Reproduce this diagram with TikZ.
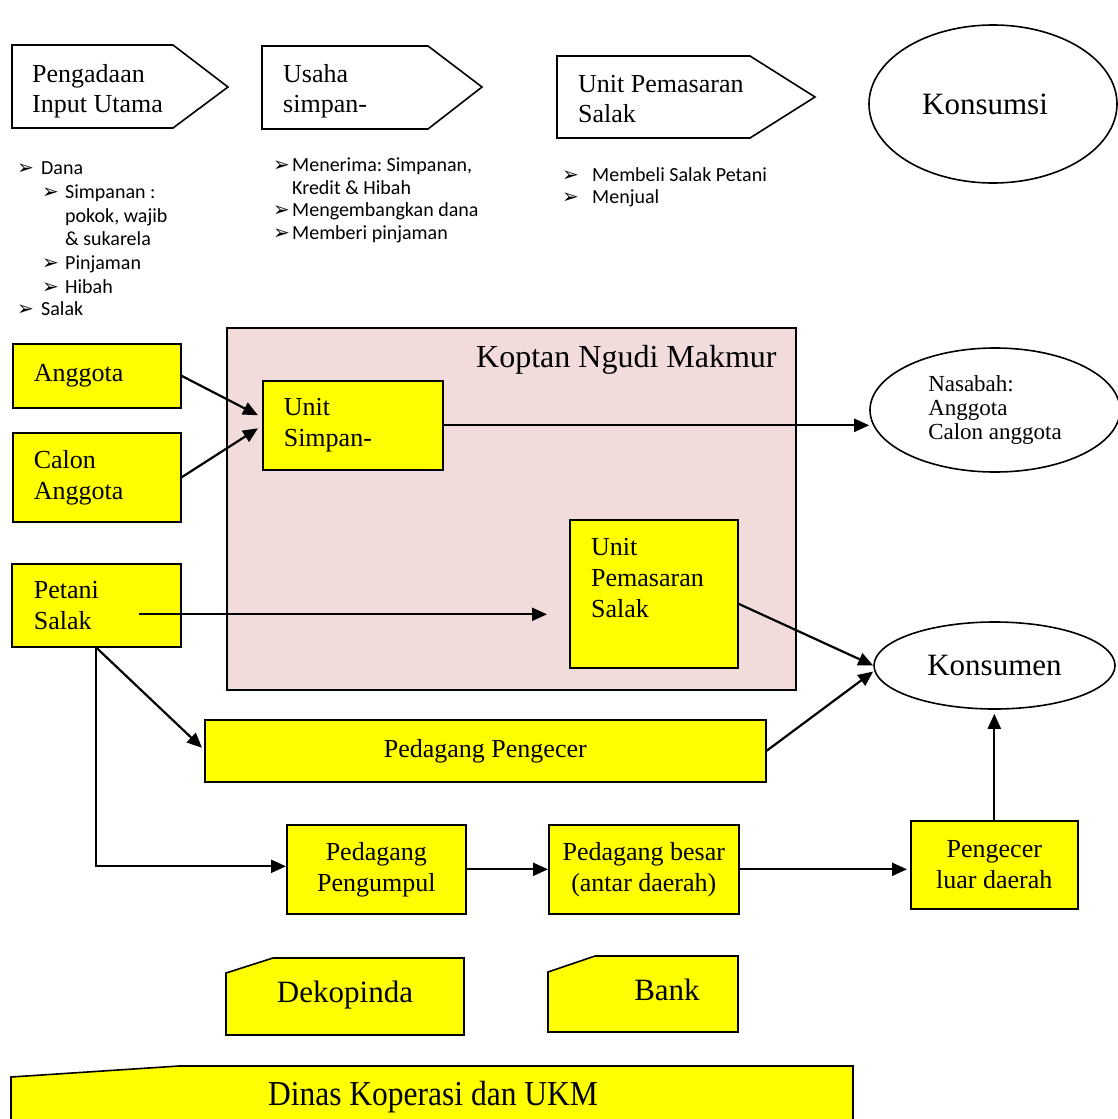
\documentclass[tikz,border=0pt]{standalone}
\usepackage{fontspec}
\setmainfont{Liberation Serif}
\newfontfamily\listfont{Carlito}
\newfontfamily\dingfont{DejaVu Sans}
\usetikzlibrary{arrows.meta,shapes.geometric}
\definecolor{boxyellow}{HTML}{FFFF00}
\definecolor{koptanpink}{HTML}{F2DCDB}
\newcommand\setfs[2]{\fontsize{#1pt}{#2pt}\selectfont}
% natural word spacing inside ragged text blocks
\newcommand\fixsp{\spaceskip=0.25em\relax\xspaceskip=0.25em\relax}
\newcommand\bl[1]{\makebox[#1][l]{\dingfont\setfs{20}{20}➢}}
\frenchspacing
\begin{document}
\begin{tikzpicture}[x=1pt,y=-1pt,
  ybox/.style={draw, fill=boxyellow, line width=1.6pt, rectangle, inner xsep=21pt, inner ysep=0pt,
               font=\setfs{26}{31}},
  lefttext/.style={align=left},
  midtext/.style={align=center, inner xsep=6pt},
  pent/.style={draw, line width=1.6pt, fill=white},
  headtext/.style={anchor=base west, inner sep=0pt, align=left, font=\setfs{26}{30}},
  cutbox/.style={draw, line width=1.6pt, fill=boxyellow},
  ell/.style={draw, ellipse, line width=1.6pt, fill=white, inner sep=0pt},
  listline/.style={anchor=base west, inner sep=0pt, font=\listfont\setfs{20}{23}},
  arr/.style={-{Triangle[length=15pt,width=13pt]}, line width=2.2pt},
]
\useasboundingbox (0,0) rectangle (1118,1119);

% ---- top row: activity headers ----
\draw[pent] (12,45) -- (173,45) -- (228,87) -- (173,128) -- (12,128) -- cycle;
\node[headtext, text width=150pt] (h1) at (32,82) {\fixsp Pengadaan\\Input Utama};
\draw[pent] (262,46) -- (428,46) -- (482,87) -- (428,129) -- (262,129) -- cycle;
\node[headtext, text width=150pt] (h2) at (283,82) {\fixsp Usaha\\simpan-};
\draw[pent] (557,56) -- (750,56) -- (815,97) -- (750,138) -- (557,138) -- cycle;
\node[headtext, text width=190pt] (h3) at (578,92) {\fixsp Unit Pemasaran\\Salak};

\node[ell, minimum width=248pt, minimum height=158pt] (kms) at (993,104) {};
\node[anchor=base, inner sep=0pt, font=\setfs{31}{36}] (kmst) at (985,114) {Konsumsi};

% ---- bullet lists ----
\node[listline] (a1) at (17,174) {\bl{24pt}Dana};
\node[listline] (a2) at (42,198) {\bl{23pt}Simpanan :};
\node[listline] (a3) at (65,222) {pokok, wajib};
\node[listline] (a4) at (65,245) {\& sukarela};
\node[listline] (a5) at (42,269) {\bl{23pt}Pinjaman};
\node[listline] (a6) at (42,293) {\bl{23pt}Hibah};
\node[listline] (a7) at (17,315) {\bl{24pt}Salak};

\node[listline] (b1) at (273,171) {\bl{19pt}Menerima: Simpanan,};
\node[listline] (b2) at (292,194) {Kredit \& Hibah};
\node[listline] (b3) at (273,216) {\bl{19pt}Mengembangkan dana};
\node[listline] (b4) at (273,239) {\bl{19pt}Memberi pinjaman};

\node[listline] (c1) at (562,181) {\bl{30pt}Membeli Salak Petani};
\node[listline] (c2) at (562,203) {\bl{30pt}Menjual};

% ---- Koptan frame ----
\node[draw, fill=koptanpink, line width=1.6pt, minimum width=569pt, minimum height=362pt,
      anchor=north west, inner sep=0pt] (kop) at (226,327) {};
\node[anchor=base west, inner sep=0pt, font=\setfs{32}{36}] (kopt) at (476,367) {Koptan Ngudi Makmur};

% ---- boxes ----
\node[ybox, lefttext, anchor=north west, minimum width=168pt, minimum height=64pt, text width=126pt] (ang) at (12,343) {Anggota};
\node[ybox, lefttext, anchor=north west, minimum width=168pt, minimum height=89pt, text width=126pt] (cal) at (12,432) {Calon\\Anggota};
\node[ybox, lefttext, anchor=north west, minimum width=180pt, minimum height=89pt, text width=138pt] (us) at (262,380) {Unit\\Simpan-};
\node[ybox, lefttext, anchor=north west, inner xsep=22pt, minimum width=169pt, minimum height=83pt, text width=125pt] (pet) at (11,563) {Petani\\Salak};
\node[ybox, anchor=north west, minimum width=168pt, minimum height=148pt] (ups) at (569,519) {};
\node[anchor=base west, inner sep=0pt, text width=140pt, align=left, font=\setfs{26}{31}] (upst) at (591,555) {Unit\\Pemasaran\\Salak};

\node[ybox, midtext, anchor=north west, minimum width=561pt, minimum height=62pt] (ppc) at (204,719) {Pedagang Pengecer};
\node[ybox, midtext, anchor=north west, minimum width=179pt, minimum height=89pt] (pgm) at (286,824) {Pedagang\\Pengumpul};
\node[ybox, midtext, anchor=north west, minimum width=190pt, minimum height=89pt] (pb) at (548,824) {Pedagang besar\\(antar daerah)};
\node[ybox, midtext, anchor=north west, minimum width=167pt, minimum height=88pt] (plr) at (910,820) {Pengecer\\luar daerah};

\node[ell, minimum width=250pt, minimum height=124pt, align=left, font=\setfs{23}{24}] (nas) at (995,410) {Nasabah:\\Anggota\\Calon anggota};
\node[ell, minimum width=241pt, minimum height=87pt, font=\setfs{31}{36}] (kmn) at (994.5,665.5) {Konsumen};

% ---- supporting institutions ----
\draw[cutbox] (226,973) -- (273,958) -- (464,958) -- (464,1035) -- (226,1035) -- cycle;
\node[anchor=base, inner sep=0pt, font=\setfs{31}{36}] (dek) at (345,1002) {Dekopinda};
\draw[cutbox] (548,972) -- (595,956) -- (738,956) -- (738,1032) -- (548,1032) -- cycle;
\node[anchor=base, inner sep=0pt, font=\setfs{31}{36}] (bank) at (667,1000) {Bank};
\draw[cutbox] (11,1077) -- (179,1066) -- (853,1066) -- (853,1135) -- (11,1135) -- cycle;
\node[anchor=base, inner sep=0pt, font=\setfs{35}{38}] (dinas) at (433,1105) {\scalebox{0.9}[1]{Dinas Koperasi dan UKM}};

% ---- connectors ----
\draw[arr] (ang.east) -- ([xshift=-4pt,yshift=10pt]us.west);
\draw[arr] (cal.east) -- ([xshift=-4pt,yshift=-3pt]us.west);
\draw[arr] (us.east) -- (us.east -| nas.west);
\coordinate (p0) at ([xshift=43pt,yshift=-9pt]pet.center);
\coordinate (p1) at ([xshift=-22pt]ups.west);
\draw[arr] (p0) -- (p0 -| p1);
\draw[arr] (pet.south) -- ([xshift=-2pt,yshift=3pt]ppc.west);
\draw[arr] (pet.south) |- ([yshift=3pt]pgm.west);
\draw[arr] (pgm.east) -- (pb.west);
\draw[arr] (pb.east) -- ([xshift=-3pt]pb.east -| plr.west);
\draw[arr] ([yshift=-10pt]ups.east) -- (kmn.west);
\draw[arr] (ppc.east) -- ([yshift=-6pt]kmn.west);
\coordinate (k0) at ([yshift=-4pt]kmn.south);
\draw[arr] (plr.north) -- (plr.north |- k0);
\end{tikzpicture}
\end{document}
